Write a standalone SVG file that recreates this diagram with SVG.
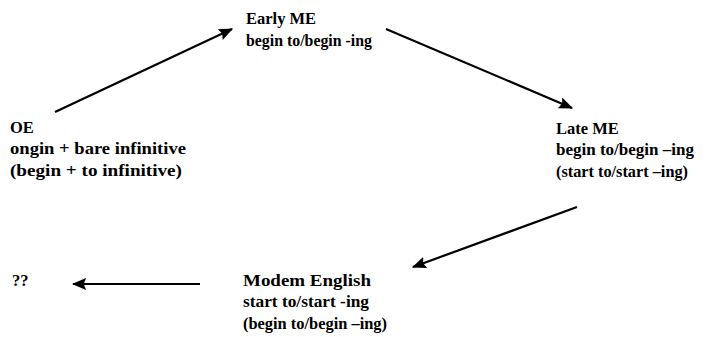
<svg xmlns="http://www.w3.org/2000/svg" width="727" height="337" viewBox="0 0 727 337">
<defs>
<style>
text{font-family:"Liberation Serif","Times New Roman",serif;font-size:16.5px;font-weight:bold;fill:#000}
.c{stroke:#000;stroke-width:2.2;fill:none;marker-end:url(#ah)}
</style>
<marker id="ah" viewBox="0 0 12 10" refX="11" refY="5" markerWidth="6.5" markerHeight="5.5" orient="auto" markerUnits="strokeWidth">
<path d="M0,0 L12,5 L0,10 L2,5 z" fill="#000"/>
</marker>
</defs>
<rect width="727" height="337" fill="#fff"/>
<g id="connectors">
<line class="c" x1="55" y1="112" x2="232" y2="29"/>
<line class="c" x1="386" y1="29" x2="572" y2="108"/>
<line class="c" x1="577" y1="207" x2="413" y2="267"/>
<line class="c" x1="200" y1="284" x2="73" y2="284"/>
</g>
<g id="early-me">
<text x="246" y="24">Early ME</text>
<text x="246" y="46" textLength="126" lengthAdjust="spacingAndGlyphs">begin to/begin -ing</text>
</g>
<g id="oe">
<text x="10" y="133">OE</text>
<text x="10" y="154" textLength="176" lengthAdjust="spacingAndGlyphs">ongin + bare infinitive</text>
<text x="10" y="176" textLength="172" lengthAdjust="spacingAndGlyphs">(begin + to infinitive)</text>
</g>
<g id="late-me">
<text x="556" y="134">Late ME</text>
<text x="556" y="155" textLength="138" lengthAdjust="spacingAndGlyphs">begin to/begin –ing</text>
<text x="556" y="177" textLength="132" lengthAdjust="spacingAndGlyphs">(start to/start –ing)</text>
</g>
<g id="future">
<text x="12" y="286">??</text>
</g>
<g id="modern-english">
<text x="243" y="286" textLength="128" lengthAdjust="spacingAndGlyphs">Modem English</text>
<text x="243" y="307" textLength="126" lengthAdjust="spacingAndGlyphs">start to/start -ing</text>
<text x="243" y="329" textLength="144" lengthAdjust="spacingAndGlyphs">(begin to/begin –ing)</text>
</g>
</svg>
